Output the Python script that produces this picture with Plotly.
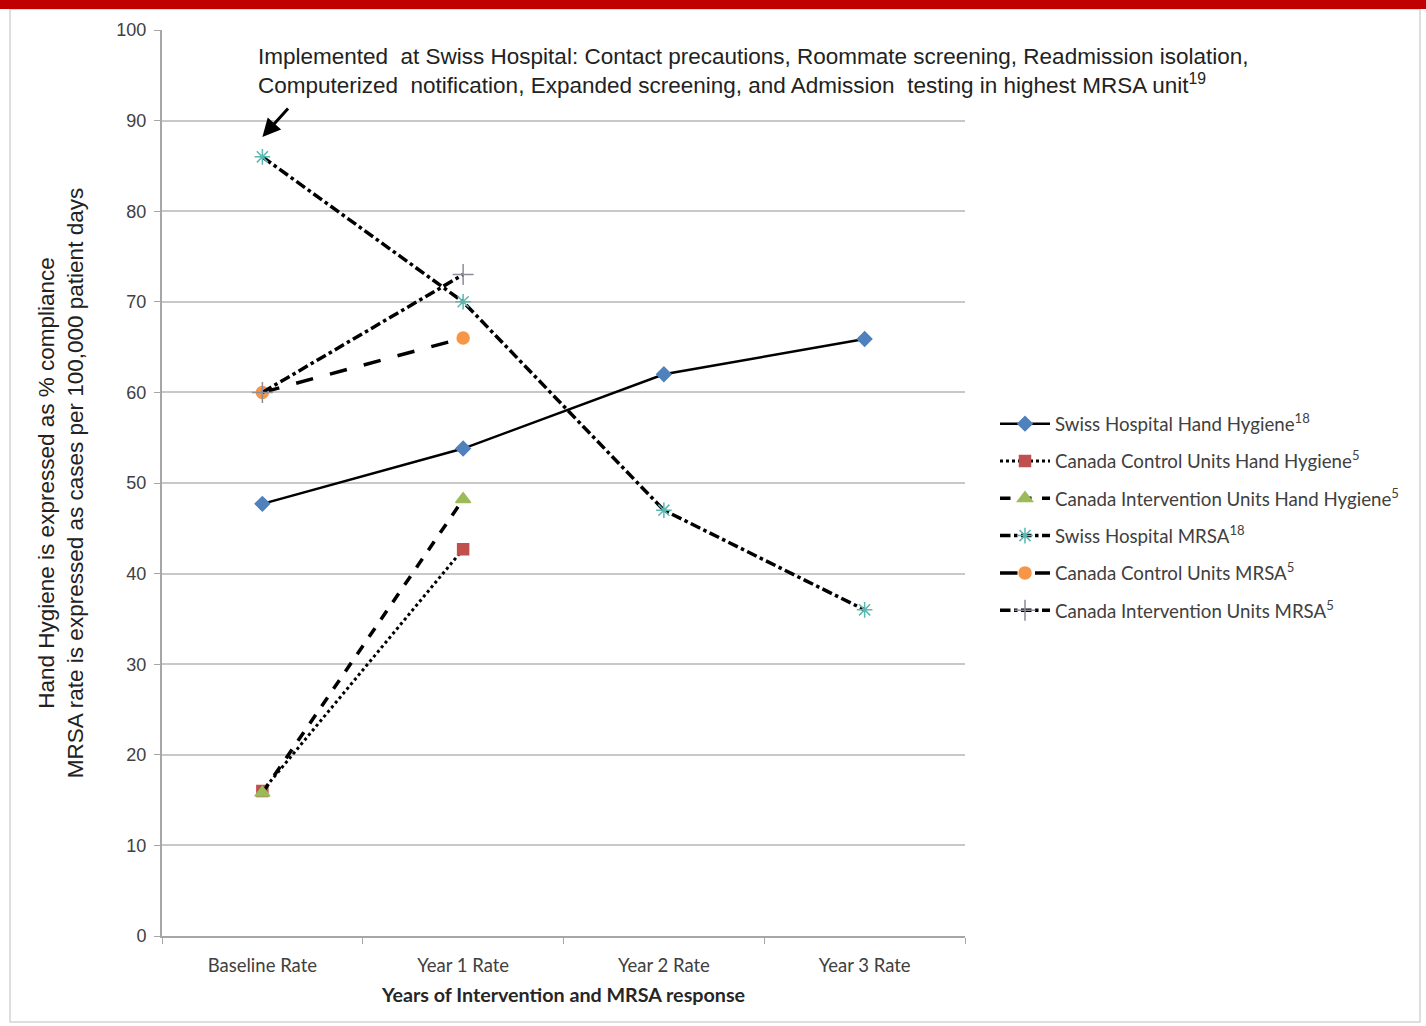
import plotly.graph_objects as go

categories = ["Baseline Rate", "Year 1 Rate", "Year 2 Rate", "Year 3 Rate"]

swiss_hh = [47.7, 53.8, 62.0, 65.9]
canada_control_hh = [16.0, 42.7]
canada_interv_hh = [15.8, 48.2]
swiss_mrsa = [86.0, 70.0, 47.0, 36.0]
canada_control_mrsa = [60.0, 66.0]
canada_interv_mrsa = [60.0, 73.0]

y_ticks = [0, 10, 20, 30, 40, 50, 60, 70, 80, 90, 100]

LEG_FONT = "Lato, 'Open Sans', sans-serif"
ARIAL = "'Liberation Sans', Arial, sans-serif"

fig = go.Figure()

def add(name, y, color, symbol, dash, group, width=3, size=11, mline=None):
    fig.add_trace(go.Scatter(
        x=categories[:len(y)], y=y, name=name, mode="lines+markers",
        legendgroup=group,
        line=dict(color="black", width=width, dash=dash),
        marker=dict(color=color, symbol=symbol, size=size,
                    line=dict(color=mline or color, width=1.5)),
    ))

add("Swiss Hospital Hand Hygiene<sup>18</sup>", swiss_hh, "#4f81bd", "diamond", "solid", "a", width=2.5, size=11)
add("Canada Control Units Hand Hygiene<sup>5</sup>", canada_control_hh, "#c0504d", "square", "dot", "b", width=3, size=11)
add("Canada Intervention Units Hand Hygiene<sup>5</sup>", canada_interv_hh, "#9bbb59", "triangle-up", "dash", "c", width=3.5, size=13)
add("Swiss Hospital MRSA<sup>18</sup>", swiss_mrsa, "#5bb8b0", "asterisk-open", "dashdot", "d", width=3.5, size=13)
add("Canada Control Units MRSA<sup>5</sup>", canada_control_mrsa, "#f79646", "circle", "longdash", "e", width=3.5, size=12)
add("Canada Intervention Units MRSA<sup>5</sup>", canada_interv_mrsa, "#8c8c9c", "cross-thin-open", "dashdot", "f", width=3.5, size=15)

PX = 803.0
PY = 906.0

shapes = [
    dict(type="rect", xref="paper", yref="paper",
         x0=-162 / PX, x1=(1426 - 162) / PX,
         y0=1 + (30 - 9) / PY, y1=1 + 31 / PY,
         fillcolor="#c00000", line=dict(width=0), layer="above"),
    dict(type="rect", xref="paper", yref="paper",
         x0=-152 / PX, x1=(1420 - 162) / PX,
         y0=-(1022 - 936) / PY, y1=1 + (30 - 9) / PY,
         fillcolor="rgba(0,0,0,0)", line=dict(color="#d4d4d4", width=1.5), layer="below"),
]

fig.update_layout(
    width=1426, height=1026,
    margin=dict(l=162, r=461, t=30, b=90),
    paper_bgcolor="white", plot_bgcolor="white",
    showlegend=True,
    legend=dict(
        x=(995 - 162) / PX, y=(936 - 405) / PY, xanchor="left", yanchor="top",
        font=dict(family=LEG_FONT, size=18.7, color="#404040"),
        traceorder="grouped", tracegroupgap=10,
        bgcolor="rgba(0,0,0,0)", itemwidth=50,
    ),
    shapes=shapes,
    xaxis=dict(
        type="category", categoryorder="array", categoryarray=categories,
        range=[-0.5, 3.5],
        showline=True, linecolor="#a6a6a6", linewidth=2,
        ticks="outside", tickson="boundaries", ticklen=6, tickcolor="#a6a6a6",
        ticklabelstandoff=12,
        showgrid=False,
        tickfont=dict(family=LEG_FONT, size=18.5, color="#404040"),
        title=dict(text="<b>Years of Intervention and MRSA response</b>",
                   font=dict(family=LEG_FONT, size=19.7, color="#262626"), standoff=13),
    ),
    yaxis=dict(
        range=[0, 100], tickvals=y_ticks,
        showline=True, linecolor="#a6a6a6", linewidth=2,
        ticks="outside", ticklen=6, tickcolor="#a6a6a6",
        ticklabelstandoff=4,
        showgrid=True, gridcolor="#c8c8c8", gridwidth=2,
        zeroline=False,
        tickfont=dict(family=ARIAL, size=18, color="#404040"),
        title=dict(text="Hand Hygiene is expressed as % compliance<br>MRSA rate is expressed as cases per 100,000 patient days",
                   font=dict(family=ARIAL, size=22.5, color="#222222"), standoff=26),
    ),
    annotations=[
        dict(xref="paper", yref="paper", x=(256 - 162) / PX, y=(936 - 42) / PY,
             xanchor="left", yanchor="top", align="left", showarrow=False,
             text="Implemented  at Swiss Hospital: Contact precautions, Roommate screening, Readmission isolation,<br>"
                  "Computerized  notification, Expanded screening, and Admission  testing in highest MRSA unit<sup>19</sup>",
             font=dict(family=ARIAL, size=22.5, color="#222222")),
        dict(xref="x", yref="y", x="Baseline Rate", y=88.2,
             ax=27, ay=-30, axref="pixel", ayref="pixel",
             showarrow=True, arrowhead=2, arrowsize=1.2, arrowwidth=3, arrowcolor="black", text=""),
    ],
)

fig.write_html("out.html")
